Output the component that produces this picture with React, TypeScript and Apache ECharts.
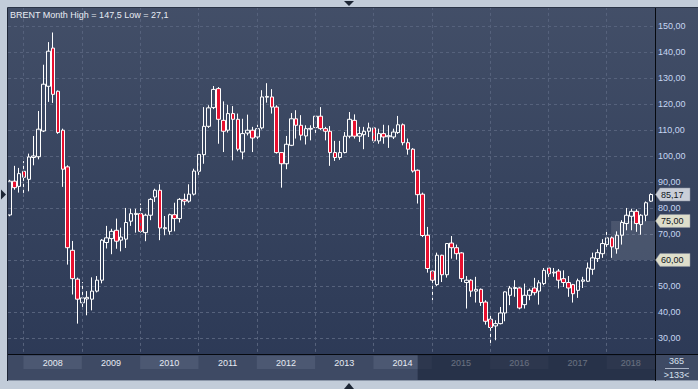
import React, { useEffect, useRef } from 'react';
import * as echarts from 'echarts';

// Monthly Brent candles, Oct 2007 .. Oct 2018 (133 months)
const opens = [
  77.3, 90.3, 88.3,
  94.1, 91.0, 99.4, 99.7, 109.6, 126.8, 141.5, 124.9, 109.9, 95.8, 63.7, 52.6,
  43.5, 45.0, 44.9, 48.0, 52.2, 66.7, 68.2, 71.4, 67.6, 68.0, 74.9, 77.5,
  77.8, 70.5, 77.2, 84.2, 86.8, 72.0, 71.0, 77.4, 75.9, 83.3, 82.6, 85.3,
  94.1, 100.5, 111.4, 118.6, 125.9, 113.7, 109.9, 116.3, 114.1, 101.5, 108.8, 109.9,
  107.3, 110.8, 122.6, 122.7, 118.8, 101.3, 97.0, 104.1, 114.3, 111.8, 107.7, 110.3,
  110.9, 115.3, 110.5, 109.5, 101.3, 99.4, 101.3, 107.6, 113.7, 107.6, 108.2, 109.5,
  110.8, 105.8, 108.6, 107.4, 107.3, 109.0, 112.0, 105.1, 102.6, 94.5, 85.3, 69.5,
  55.7, 50.5, 61.8, 54.3, 66.5, 64.7, 62.7, 51.3, 52.2, 48.0, 48.7, 43.8,
  37.2, 34.6, 35.5, 39.6, 46.4, 49.0, 49.2, 42.8, 46.4, 49.2, 48.0, 50.9,
  56.9, 55.0, 55.7, 52.8, 51.3, 50.5, 48.3, 51.8, 51.8, 56.4, 60.5, 62.4,
  65.9, 68.5, 64.3, 69.5, 74.0, 76.8, 78.7, 73.6, 77.2, 82.6,
];
const closes = [
  90.3, 87.8, 93.2,
  91.8, 99.6, 100.0, 110.3, 127.6, 140.3, 123.7, 109.0, 94.9, 64.7, 52.8, 44.9,
  45.4, 45.6, 48.0, 52.2, 67.6, 68.5, 71.0, 67.2, 68.8, 74.4, 77.8, 77.9,
  71.0, 77.2, 83.3, 86.8, 72.3, 72.4, 77.4, 75.9, 83.3, 82.6, 85.3, 94.2,
  100.6, 111.4, 118.5, 125.6, 114.1, 109.5, 116.3, 114.1, 102.6, 108.6, 109.9, 106.9,
  110.5, 122.7, 122.9, 118.8, 101.3, 97.0, 104.5, 114.3, 111.8, 108.0, 110.5, 110.6,
  115.3, 110.5, 109.5, 101.3, 99.4, 101.3, 107.6, 114.1, 107.6, 108.6, 109.5, 110.8,
  105.8, 108.6, 107.3, 107.8, 109.2, 112.0, 105.1, 102.6, 94.2, 85.1, 69.4, 56.7,
  52.2, 61.8, 54.3, 66.3, 64.7, 62.4, 52.8, 52.2, 48.0, 48.7, 43.6, 36.4,
  34.0, 35.5, 39.6, 47.7, 49.2, 49.4, 41.5, 46.4, 48.3, 47.4, 51.2, 56.0,
  54.7, 55.3, 52.2, 51.3, 49.2, 47.0, 52.0, 52.3, 56.9, 60.8, 62.8, 66.3,
  68.5, 65.0, 69.5, 74.4, 77.2, 78.7, 74.0, 77.2, 82.0, 85.17,
];
const highs = [
  90.8, 96.2, 95.4,
  98.0, 100.9, 107.7, 117.3, 135.1, 143.8, 147.5, 125.2, 110.5, 96.4, 67.3, 53.2,
  51.5, 48.0, 53.3, 53.8, 68.0, 73.1, 72.0, 75.9, 72.4, 80.0, 79.7, 79.7,
  81.7, 77.8, 83.8, 87.4, 89.1, 76.9, 77.8, 82.0, 83.8, 85.5, 89.1, 95.1,
  101.5, 118.8, 119.5, 126.9, 126.5, 121.0, 119.7, 119.2, 116.3, 114.3, 115.9, 111.2,
  112.0, 125.3, 128.0, 125.7, 119.5, 101.5, 107.7, 116.5, 117.6, 115.7, 111.8, 111.8,
  115.5, 118.8, 111.2, 111.5, 105.8, 105.8, 109.2, 116.9, 116.0, 111.2, 111.2, 112.8,
  111.2, 110.5, 112.0, 111.8, 110.5, 115.4, 112.5, 106.7, 103.0, 94.8, 85.9, 72.7,
  55.9, 62.8, 62.0, 66.5, 69.2, 65.9, 63.0, 53.8, 52.6, 53.5, 49.0, 44.5,
  38.7, 36.8, 41.9, 47.9, 50.0, 52.2, 49.5, 50.9, 49.0, 53.1, 52.2, 56.9,
  58.0, 56.9, 56.5, 56.0, 53.8, 50.8, 52.8, 53.5, 59.0, 62.8, 64.1, 68.0,
  70.8, 69.0, 71.0, 75.3, 80.0, 79.7, 79.5, 77.6, 82.5, 85.6,
];
const lows = [
  76.8, 87.0, 85.9,
  84.5, 86.4, 96.4, 98.7, 109.2, 120.8, 120.4, 108.5, 88.1, 58.2, 46.7, 35.5,
  41.0, 38.7, 40.6, 47.5, 51.0, 64.4, 62.2, 64.3, 63.3, 64.6, 73.1, 70.5,
  70.5, 67.2, 75.3, 82.3, 67.6, 69.5, 69.7, 71.0, 74.4, 81.0, 82.0, 84.8,
  91.9, 97.0, 110.8, 118.0, 104.7, 101.5, 109.0, 98.3, 101.8, 98.7, 107.9, 101.5,
  106.5, 110.2, 120.5, 116.3, 100.9, 87.8, 94.9, 103.8, 106.7, 106.0, 104.4, 106.0,
  108.8, 110.0, 106.0, 96.2, 98.1, 98.5, 101.0, 106.8, 106.7, 105.4, 102.6, 107.3,
  105.1, 104.7, 104.7, 103.1, 106.5, 108.5, 104.1, 100.5, 93.6, 81.7, 68.8, 55.1,
  44.5, 50.0, 51.5, 53.2, 60.5, 60.1, 51.5, 41.3, 45.8, 43.6, 42.3, 35.1,
  27.1, 29.1, 35.2, 36.4, 42.6, 45.8, 41.0, 41.3, 44.5, 46.4, 42.8, 50.3,
  52.8, 53.5, 49.0, 49.6, 45.8, 43.6, 45.4, 49.2, 51.5, 54.3, 59.2, 60.8,
  64.3, 60.8, 62.4, 65.9, 71.4, 71.4, 70.8, 69.7, 74.9, 82.3,
];

const yearLabels = ['2008', '2009', '2010', '2011', '2012', '2013', '2014', '2015', '2016', '2017', '2018'];
const firstJanIndex = 3; // Jan 2008 is the 4th candle
const titleText = 'BRENT Month High = 147,5 Low = 27,1';
const lastValue = 85.17;
const zoneLow = 60;
const zoneHigh = 75;
const zoneStartIndex = 123.8;
const shadeStartIndex = 84;
const periodText = '365';
const countText = '>133<';

const FONT = '"Liberation Sans", Arial, sans-serif';
const fmt = (v: number) => v.toFixed(2).replace('.', ',');

export default function App() {
  const ref = useRef<HTMLDivElement>(null);
  useEffect(() => {
    const chart = echarts.init(ref.current!, null, { renderer: 'svg' });
    const xMin = -0.29;
    const xMax = 132.83;
    const boundaries = yearLabels.map((_, k) => firstJanIndex - 0.1 + 12 * k);
    const data = opens.map((o, i) => [i, o, closes[i], lows[i], highs[i]]);
    const gridColor = '#56627c';

    chart.setOption({
      animation: false,
      backgroundColor: 'transparent',
      grid: { left: 8, right: 43, top: -1.8, bottom: 25.1 },
      xAxis: { type: 'value', min: xMin, max: xMax, show: false },
      yAxis: {
        type: 'value',
        position: 'right',
        min: 20,
        max: 160,
        interval: 10,
        axisLine: { show: false },
        axisTick: { show: false },
        splitLine: { show: true, lineStyle: { color: gridColor, type: [3, 3], width: 1 } },
        axisLabel: {
          color: '#c6d6f2',
          fontSize: 9,
          fontFamily: FONT,
          margin: 3,
          // 60 is covered by its value tag
          formatter: (v: number) => (v <= 20 || v >= 160 || v === zoneLow ? '' : fmt(v)),
        },
      },
      series: [
        {
          type: 'candlestick',
          dimensions: ['idx', 'open', 'close', 'lowest', 'highest'],
          encode: { x: 0, y: [1, 2, 3, 4] },
          data,
          barWidth: 4,
          itemStyle: {
            color: 'rgba(0,0,0,0)',
            color0: '#e8102f',
            borderColor: '#ffffff',
            borderColor0: '#ffffff',
            borderWidth: 1,
          },
          markLine: {
            silent: true,
            symbol: ['none', 'none'],
            label: { show: false },
            lineStyle: { color: gridColor, type: [3, 3], width: 1 },
            data: boundaries.map((b) => ({ xAxis: b })),
          },
          markArea: {
            silent: true,
            itemStyle: { color: 'rgba(255,255,255,0.11)' },
            data: [[{ xAxis: zoneStartIndex, yAxis: zoneLow }, { xAxis: xMax, yAxis: zoneHigh }]],
          },
        },
      ],
    });

    const px = (i: number) => chart.convertToPixel({ xAxisIndex: 0 }, i) as number;
    const py = (v: number) => chart.convertToPixel({ yAxisIndex: 0 }, v) as number;
    const plotRight = px(xMax);
    const els: any[] = [];
    let z = 100;
    const add = (e: any) => els.push({ ...e, z: z++ });

    // bottom time band
    add({ type: 'rect', shape: { x: 8, y: 355, width: 690, height: 26 }, style: { fill: '#3e4a64' } });
    const cellEnd = (k: number) =>
      Math.min(k + 1 < boundaries.length ? px(boundaries[k + 1]) : plotRight, plotRight);
    boundaries.forEach((b, k) => {
      if (k % 2 === 0) {
        const x0 = px(b);
        add({ type: 'rect', shape: { x: x0, y: 356, width: cellEnd(k) - x0, height: 13 }, style: { fill: '#4c5872' } });
      }
    });
    boundaries.forEach((b, k) => {
      const x0 = px(b);
      add({
        type: 'text',
        style: {
          text: yearLabels[k], x: (x0 + cellEnd(k)) / 2, y: 363, fill: '#e6ebf3',
          font: `9px ${FONT}`, textAlign: 'center', textVerticalAlign: 'middle',
        },
      });
    });
    const sx = px(shadeStartIndex);
    add({ type: 'rect', shape: { x: sx, y: 355, width: plotRight - sx, height: 26 }, style: { fill: 'rgba(26,36,56,0.62)' } });

    // frame
    add({ type: 'rect', shape: { x: 0, y: 0, width: 698, height: 8 }, style: { fill: '#c2ccd9' } });
    add({ type: 'rect', shape: { x: 0, y: 0, width: 8, height: 389 }, style: { fill: '#c2ccd9' } });
    add({ type: 'rect', shape: { x: 0, y: 381, width: 698, height: 8 }, style: { fill: '#c2ccd9' } });
    add({ type: 'line', shape: { x1: 7.5, y1: 7.5, x2: 7.5, y2: 381 }, style: { stroke: '#1e2637', lineWidth: 1 } });
    add({ type: 'line', shape: { x1: 7.5, y1: 7.5, x2: 698, y2: 7.5 }, style: { stroke: '#2a3447', lineWidth: 1 } });
    add({ type: 'line', shape: { x1: 8, y1: 380.5, x2: 698, y2: 380.5 }, style: { stroke: '#8d98aa', lineWidth: 1 } });

    // black axis lines
    add({ type: 'line', shape: { x1: 8, y1: 354.5, x2: 698, y2: 354.5 }, style: { stroke: '#06090f', lineWidth: 1 } });
    add({ type: 'line', shape: { x1: 655.5, y1: 8, x2: 655.5, y2: 381 }, style: { stroke: '#06090f', lineWidth: 1 } });

    // period cell
    add({
      type: 'text',
      style: { text: periodText, x: 676.5, y: 361, fill: '#d8e0ee', font: `9px ${FONT}`, textAlign: 'center', textVerticalAlign: 'middle' },
    });
    add({ type: 'line', shape: { x1: 665, y1: 368.5, x2: 689, y2: 368.5 }, style: { stroke: '#aab4c6', lineWidth: 1 } });
    add({
      type: 'text',
      style: { text: countText, x: 676.5, y: 374.5, fill: '#d8e0ee', font: `9px ${FONT}`, textAlign: 'center', textVerticalAlign: 'middle' },
    });

    // value tags
    const tag = (v: number, fill: string) => {
      const yc = py(v);
      add({
        type: 'polygon',
        shape: { points: [[655.5, yc], [660, yc - 6.5], [690, yc - 6.5], [690, yc + 6.5], [660, yc + 6.5]] },
        style: { fill, stroke: '#8c93a0', lineWidth: 0.5 },
      });
      add({
        type: 'text',
        style: { text: fmt(v), x: 661, y: yc + 0.5, fill: '#101622', font: `9px ${FONT}`, textAlign: 'left', textVerticalAlign: 'middle' },
      });
    };
    tag(lastValue, '#c9ced8');
    tag(zoneHigh, '#dedecb');
    tag(zoneLow, '#dedecb');

    // title
    add({
      type: 'text',
      style: { text: titleText, x: 10, y: 14.5, fill: '#e8ecf3', font: `9px ${FONT}`, textAlign: 'left', textVerticalAlign: 'middle' },
    });

    // little pointer triangles
    const ly = py(lastValue);
    add({ type: 'polygon', shape: { points: [[344, 1], [354, 1], [349, 6]] }, style: { fill: '#1c2534' } });
    add({ type: 'polygon', shape: { points: [[344, 389], [354, 389], [349, 383]] }, style: { fill: '#1c2534' } });
    add({ type: 'polygon', shape: { points: [[1, ly - 5], [1, ly + 5], [6, ly]] }, style: { fill: '#1c2534' } });

    chart.setOption({ graphic: { elements: els } });

    return () => chart.dispose();
  }, []);

  return (
    <div
      ref={ref}
      style={{
        position: 'fixed',
        left: 0,
        top: 0,
        width: 698,
        height: 389,
        background: 'linear-gradient(to bottom, #434f68 0%, #36435e 50%, #2b3855 100%)',
      }}
    />
  );
}
